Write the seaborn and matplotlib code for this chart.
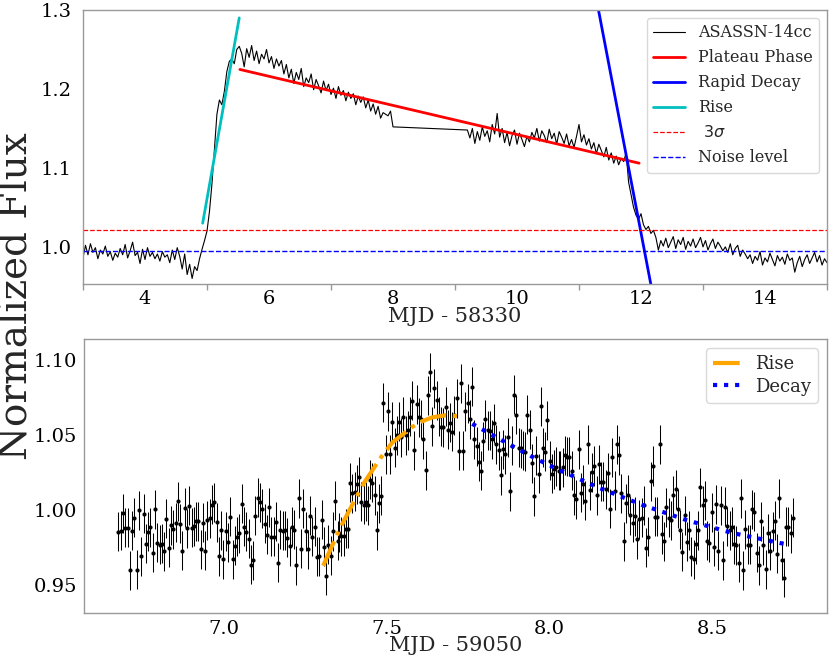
import numpy as np
import pandas as pd
import matplotlib
matplotlib.use("Agg")
import matplotlib.pyplot as plt
from matplotlib.ticker import FixedLocator
import seaborn as sns

# ---------------- top panel data (MJD - 58330) ----------------
top_seg1_start, top_seg1_end = 3.0, 8.0
top_flux_seg1 = [
    0.986, 1.002, 0.990, 1.004, 0.993, 0.999, 0.985, 0.996, 0.991, 1.001,
    0.988, 0.994, 0.983, 0.992, 0.987, 0.998, 0.990, 1.003, 0.986, 0.995,
    1.006, 0.989, 0.993, 0.979, 0.997, 0.984, 0.999, 0.988, 0.993, 0.985,
    0.991, 0.982, 0.994, 0.987, 0.990, 0.980, 0.996, 0.984, 0.999, 0.988,
    0.972, 0.991, 0.965, 0.978, 0.960, 0.975, 0.970, 0.985,
    0.997, 1.008, 1.020, 1.045, 1.080, 1.125, 1.168, 1.186, 1.180, 1.197,
    1.222, 1.235, 1.238, 1.232, 1.250, 1.254,
    1.245, 1.228, 1.251, 1.240, 1.255, 1.236, 1.248, 1.232, 1.244, 1.238,
    1.250, 1.233, 1.241, 1.226, 1.238, 1.229, 1.236,
    1.219, 1.231, 1.214, 1.225, 1.207, 1.221, 1.212, 1.226, 1.203, 1.214,
    1.208, 1.219, 1.199, 1.212, 1.204, 1.195, 1.210, 1.198, 1.206, 1.193,
    1.201, 1.188, 1.203, 1.192, 1.198, 1.185, 1.196, 1.188, 1.194, 1.180,
    1.191, 1.183, 1.190, 1.176, 1.186, 1.172, 1.181, 1.168, 1.178, 1.163,
    1.170, 1.168, 1.166, 1.172,
    1.152,
]
top_seg2_start, top_seg2_end = 9.2, 15.0
top_flux_seg2 = [
    1.148, 1.138, 1.150, 1.131, 1.146, 1.135, 1.152, 1.140, 1.147, 1.133,
    1.155, 1.143, 1.169,
    1.139, 1.150, 1.132, 1.145, 1.128, 1.141, 1.148, 1.130, 1.144, 1.136,
    1.127, 1.140, 1.133,
    1.145, 1.138, 1.150, 1.134, 1.147, 1.141, 1.132, 1.149, 1.137, 1.144,
    1.130, 1.146, 1.139, 1.131, 1.143, 1.128, 1.136,
    1.126, 1.140, 1.155, 1.133, 1.142,
    1.129, 1.137, 1.124, 1.132, 1.118, 1.130, 1.122, 1.114, 1.126, 1.110,
    1.119, 1.106, 1.115, 1.104, 1.112, 1.108, 1.119,
    1.082, 1.066, 1.050, 1.040, 1.035, 1.042, 1.028, 1.022, 1.026, 1.017,
    1.021, 1.012, 0.996,
    1.008, 1.001, 1.011, 0.999, 1.006, 1.013, 0.998, 1.009, 1.003, 1.012,
    0.997, 1.007, 1.001, 1.010, 0.999, 1.005, 1.012, 1.000, 1.008, 0.996,
    1.004, 1.010, 0.998, 1.006, 1.001, 0.995,
    1.000, 0.993, 1.004, 0.990, 0.998, 1.002, 0.988, 0.996, 0.991, 0.985,
    0.990, 0.979, 0.988, 0.983, 0.994, 0.977, 0.986, 0.981, 0.992, 0.984,
    0.976, 0.989, 0.982, 0.987, 0.978, 0.991, 0.983, 0.986, 0.968, 0.980,
    0.988, 0.975, 0.984, 0.990, 0.979, 0.986, 0.993, 0.981, 0.989, 0.977,
    0.985, 0.980,
]
plateau_x = [5.53, 11.97]
plateau_y = [1.2247, 1.106]
decay_fast_x = [11.2, 12.25]
decay_fast_y = [1.347, 0.915]
rise_top_x = [4.93, 5.52]
rise_top_y = [1.030, 1.290]
three_sigma = 1.022
noise_level = 0.995

# ---------------- bottom panel data (MJD - 59050) ----------------
bot_seg_bounds = [(6.676, 7.349), (7.354, 8.028), (8.034, 8.748)]
bot_flux_seg1 = [
    0.9855, 0.9862, 0.9978, 0.9884, 0.9884, 0.9600, 0.9862, 0.9951, 0.9604, 0.9998,
    0.9693, 0.9975, 0.9777, 0.9855, 0.9886, 0.9717, 1.0006, 0.9782, 0.9771, 0.9777,
    0.9726, 0.9942, 0.9749, 0.9900, 0.9873, 0.9917, 1.0058, 0.9911, 0.9731, 1.0017,
    0.9880, 1.0031, 0.9884, 0.9893, 0.9926, 0.9926, 0.9740, 0.9915, 0.9731, 0.9933,
    0.9946, 1.0037, 1.0053, 0.9920, 0.9693, 0.9866, 0.9673, 0.9860, 0.9786, 0.9955,
    0.9673, 0.9762, 0.9822, 0.9846, 1.0044, 0.9889, 0.9855, 0.9809, 0.9635, 0.9666,
    0.9964, 1.0082, 1.0053, 1.0011, 0.9909, 0.9837, 1.0020, 0.9822, 0.9822, 0.9924,
    0.9649, 0.9869, 0.9862, 0.9866, 0.9815, 0.9760, 0.9889, 0.9869, 0.9633, 1.0080,
    0.9742, 1.0009, 0.9860, 0.9740, 0.9962, 0.9824, 0.9889, 0.9689, 0.9693, 0.9937,
    0.9757, 0.9562, 0.9769, 0.9697, 0.9860, 1.0062, 0.9797,
]
bot_flux_seg2 = [
    0.9849, 0.9826, 0.9826, 0.9877, 0.9875, 1.0184, 1.0111, 1.0122, 1.0171, 1.0222,
    1.0055, 1.0037, 1.0055, 1.0033, 1.0204, 1.0184, 1.0100, 0.9866, 1.0046, 1.0095,
    1.0717, 1.0373, 1.0660, 1.0373, 1.0589, 1.0417, 1.0500, 1.0589, 1.0484, 1.0622,
    1.0500, 1.0533, 1.0622, 1.0729, 1.0400, 1.0706, 1.0618, 1.0604, 1.0471, 1.0266,
    1.0766, 1.0918, 1.0560, 1.0811, 1.0733, 1.0626, 1.0555, 1.0551, 1.0689, 1.0537,
    1.0582, 1.0522, 1.0633, 1.0744, 1.0395, 1.0844, 1.0395, 1.0658, 1.0713, 1.0604,
    1.0822, 1.0471, 1.0426, 1.0322, 1.0262, 1.0460, 1.0606, 1.0533, 1.0529, 1.0473,
    1.0578, 1.0440, 1.0400, 1.0233, 1.0406, 1.0373, 1.0484, 1.0126, 1.0429, 1.0769,
    1.0637, 1.0415, 1.0411, 1.0395, 1.0389, 1.0635, 1.0535, 1.0311, 1.0093, 1.0362,
    1.0244, 1.0691, 1.0417, 1.0389, 1.0600, 1.0329, 1.0244, 1.0271, 1.0289, 1.0262,
]
bot_flux_seg3 = [
    1.0263, 1.0285, 1.0365, 1.0356, 1.0356, 1.0263, 1.0100, 1.0071, 1.0405, 1.0116,
    1.0171, 1.0063, 1.0438, 1.0134, 1.0251, 1.0294, 1.0098, 1.0307, 1.0189, 1.0189,
    1.0138, 1.0249, 1.0011, 1.0351, 1.0129, 1.0440, 1.0367, 1.0111, 0.9794, 1.0045,
    1.0103, 0.9967, 0.9916, 0.9960, 0.9805, 0.9938, 0.9949, 1.0034, 0.9749, 0.9823,
    1.0194, 1.0294, 0.9956, 0.9956, 1.0438, 0.9840, 0.9794, 1.0018, 0.9951, 0.9934,
    1.0100, 1.0138, 1.0011, 0.9871, 0.9723, 0.9965, 0.9789, 0.9867, 0.9689, 0.9674,
    0.9774, 0.9867, 1.0151, 1.0034, 1.0065, 0.9796, 0.9783, 0.9987, 0.9756, 1.0040,
    0.9729, 1.0034, 0.9667, 1.0023, 0.9894, 0.9867, 0.9889, 0.9774, 0.9767, 0.9649,
    1.0078, 0.9600, 0.9874, 0.9769, 0.9769, 1.0005, 0.9991, 0.9716, 0.9634, 0.9927,
    0.9767, 0.9605, 0.9845, 0.9729, 0.9860, 0.9929, 0.9711, 1.0078, 0.9667, 0.9549,
    0.9889, 0.9889, 0.9845, 0.9951,
]
bot_err = 0.013
rise_bot_x = [7.305, 7.338, 7.364, 7.405, 7.430, 7.482, 7.517, 7.579, 7.609, 7.640, 7.681, 7.722]
rise_bot_y = [0.963, 0.979, 0.991, 1.008, 1.018, 1.035, 1.045, 1.0555, 1.0592, 1.0618, 1.0632, 1.0625]
decay_bot_x = [7.763, 7.858, 7.953, 8.018, 8.150, 8.284, 8.421, 8.560, 8.735]
decay_bot_y = [1.0575, 1.0460, 1.0349, 1.0280, 1.0151, 1.0036, 0.9934, 0.9849, 0.9769]

# ---------------- build tables ----------------
top_df = pd.DataFrame({
    "t": np.concatenate([np.linspace(top_seg1_start, top_seg1_end, len(top_flux_seg1)),
                         np.linspace(top_seg2_start, top_seg2_end, len(top_flux_seg2))]),
    "f": np.concatenate([top_flux_seg1, top_flux_seg2]),
})
bot_fluxes = [bot_flux_seg1, bot_flux_seg2, bot_flux_seg3]
bot_df = pd.DataFrame({
    "t": np.concatenate([np.linspace(a, b, len(f)) for (a, b), f in zip(bot_seg_bounds, bot_fluxes)]),
    "f": np.concatenate(bot_fluxes),
})

sns.set_theme(style="white")
plt.rcParams["font.family"] = ["DejaVu Serif"]
plt.rcParams["mathtext.fontset"] = "dejavusans"

fig = plt.figure(figsize=(8.3, 6.61), dpi=100)
W, H = 830, 661
ax1 = fig.add_axes([83 / W, 1 - 284 / H, (827 - 83) / W, (284 - 10) / H])
ax2 = fig.add_axes([84 / W, 1 - 613 / H, (827 - 84) / W, (613 - 339) / H])

# top panel
sns.lineplot(data=top_df, x="t", y="f", ax=ax1, color="black", lw=0.8,
             estimator=None, sort=False, label="ASASSN-14cc")
sns.lineplot(x=plateau_x, y=plateau_y, ax=ax1, color="red", lw=2, label="Plateau Phase")
sns.lineplot(x=decay_fast_x, y=decay_fast_y, ax=ax1, color="blue", lw=2, label="Rapid Decay")
sns.lineplot(x=rise_top_x, y=rise_top_y, ax=ax1, color="#00bfbf", lw=2, label="Rise")
ax1.axhline(three_sigma, color="red", ls="--", lw=0.9, label=r" $3\sigma$")
ax1.axhline(noise_level, color="#0000ff", ls="--", lw=1.0, label="Noise level")
ax1.set_xlim(3, 15)
ax1.set_ylim(0.953, 1.3)
ax1.set_yticks([1.0, 1.1, 1.2, 1.3])
ax1.set_xticks([4, 6, 8, 10, 12, 14])
ax1.xaxis.set_minor_locator(FixedLocator([3, 5, 7, 9, 11, 13, 15]))
ax1.set_xlabel("MJD - 58330", fontsize=15)
ax1.set_ylabel("")
ax1.xaxis.label.set_va("center")
ax1.xaxis.set_label_coords(0.5, -0.118)
ax1.legend(loc="upper right", fontsize=11.5, framealpha=1, edgecolor="0.85",
           borderaxespad=0.5)

# bottom panel
ax2.errorbar(bot_df["t"], bot_df["f"], yerr=bot_err, fmt=".", color="black",
             ms=4, elinewidth=0.75, ecolor="black", capsize=0, zorder=2)
sns.lineplot(x=rise_bot_x, y=rise_bot_y, ax=ax2, color="orange", lw=3, ls="-.",
             label="Rise", zorder=3)
sns.lineplot(x=decay_bot_x, y=decay_bot_y, ax=ax2, color="blue", lw=3, ls=":",
             label="Decay", zorder=3)
ax2.set_xlim(6.57, 8.853)
ax2.set_ylim(0.9315, 1.114)
ax2.set_xticks([7.0, 7.5, 8.0, 8.5])
ax2.set_yticks([0.95, 1.00, 1.05, 1.10])
ax2.set_xlabel("MJD - 59050", fontsize=15)
ax2.set_ylabel("")
ax2.xaxis.label.set_va("center")
ax2.xaxis.set_label_coords(0.5, -0.117)
ax2.legend(loc="upper right", fontsize=13, framealpha=1, edgecolor="0.85",
           handlelength=1.5, labelspacing=0.25, borderaxespad=0.5)

for ax in (ax1, ax2):
    for s in ax.spines.values():
        s.set_color("0.6")
        s.set_linewidth(1.0)
    ax.tick_params(axis="both", which="major", labelsize=14, length=2,
                   color="0.6", labelcolor="black")
    ax.tick_params(axis="x", which="minor", length=4, color="0.6", bottom=True)
    ax.set_facecolor("white")
ax1.tick_params(axis="y", pad=6)
ax1.tick_params(axis="x", which="major", pad=2)
ax2.tick_params(axis="y", pad=3)
ax2.tick_params(axis="x", pad=3)

fig.text(0.021, 1 - 296 / H, "Normalized Flux", rotation=90, va="center",
         ha="center", fontsize=28)

fig.savefig("out.png", dpi=100, facecolor="white")
